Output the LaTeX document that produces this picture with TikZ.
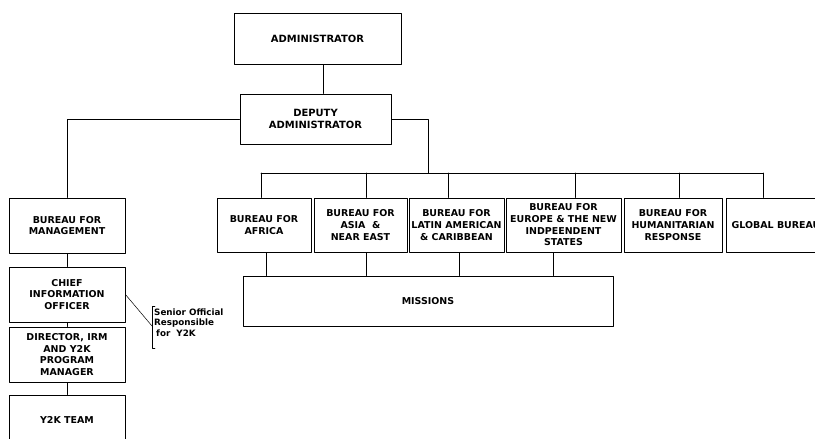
\documentclass[tikz,border=0pt]{standalone}
\usepackage{fontspec}
\setmainfont{DejaVu Sans}
\begin{document}
\begin{tikzpicture}[x=1bp, y=-1bp, line join=round, line cap=round,
	box/.style 2 args={draw, line width=0.9bp, inner sep=0pt, align=center, minimum width=#1bp, minimum height=#2bp, font=\fontsize{9.5}{11.7}\selectfont\bfseries},
	link/.style={line width=0.8bp},
	note/.style={inner sep=0pt, align=left, font=\fontsize{8.8}{10.5}\selectfont\bfseries}]
	\useasboundingbox (0,0) rectangle (815,439);
	\clip (0,0) rectangle (815,439);
	% top
	\node[box={167}{51}, font=\fontsize{10}{12}\selectfont\bfseries] (admin) at (317.5,38.5) {ADMINISTRATOR};
	\node[box={151}{50}, font=\fontsize{10}{12}\selectfont\bfseries] (deputy) at (315.5,119) {DEPUTY\\ADMINISTRATOR};
	% left column
	\node[box={116}{55}] (bfm) at (67,225.5) {BUREAU FOR\\MANAGEMENT};
	\node[box={116}{55}] (cio) at (67,294.5) {CHIEF\\INFORMATION\\OFFICER};
	\node[box={116}{55}] (irm) at (67,354.5) {DIRECTOR, IRM\\AND Y2K\\PROGRAM\\MANAGER};
	\node[box={116}{50}] (team) at (67,420) {Y2K TEAM};
	% bureaus
	\node[box={94}{54}] (africa) at (264,225) {BUREAU FOR\\AFRICA};
	\node[box={93}{54}] (asia) at (360.5,225) {BUREAU FOR\\ASIA~~\&\\NEAR EAST};
	\node[box={95}{54}] (latin) at (456.5,225) {BUREAU FOR\\LATIN AMERICAN\\\& CARIBBEAN};
	\node[box={115}{54}] (europe) at (563.5,225) {BUREAU FOR\\EUROPE \& THE NEW\\INDPEENDENT\\STATES};
	\node[box={98}{54}] (human) at (673,225) {BUREAU FOR\\HUMANITARIAN\\RESPONSE};
	\node[box={100}{54}] (global) at (776,225) {GLOBAL BUREAU};
	\node[box={370}{50}] (missions) at (428,301) {MISSIONS};
	% note
	\node[note, anchor=north west] (senior) at (154,308.5) {Senior Official\\Responsible\\\hspace{2bp}for~~Y2K};
	\coordinate (brk) at (152,326);
	\coordinate (split) at (428,173);
	\coordinate (busL) at (261,173);
	\coordinate (busR) at (763,173);
	% lines
	\draw[link] (admin.south -| 323,0) -- (deputy.north -| 323,0);
	\draw[link] (deputy.east) -| (split);
	\draw[link] (busL) -- (busR);
	\foreach \n/\x in {africa/261,asia/366,latin/448,europe/575,human/679,global/763}
		\draw[link] (busL -| \x,0) -- (\n.north -| \x,0);
	\foreach \n/\x in {africa/266,asia/366,latin/459,europe/553}
		\draw[link] (\n.south -| \x,0) -- (missions.north -| \x,0);
	\draw[link] (deputy.west) -| (bfm.north);
	\foreach \a/\b in {bfm/cio,cio/irm,irm/team}
		\draw[link] (\a.south) -- (\b.north);
	\draw[line width=0.5bp] (cio.east) -- (brk);
	\draw[line width=0.5bp] (155,306) -- (152,306) -- (152,348) -- (155,348);
\end{tikzpicture}
\end{document}
